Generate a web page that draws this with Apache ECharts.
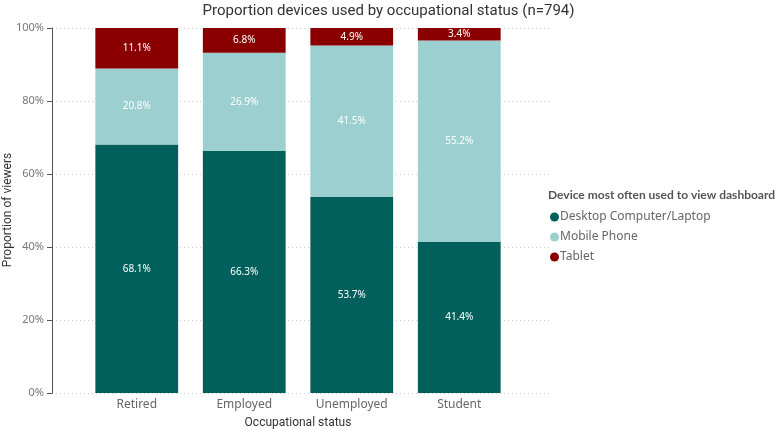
<!DOCTYPE html>
<html><head><meta charset="utf-8">
<script src="https://cdn.jsdelivr.net/npm/echarts@6/dist/echarts.min.js"></script>
<style>html,body{margin:0;padding:0;background:#fff}#c{width:777px;height:430px}</style>
</head><body><div id="c"></div>
<script>
var categories = ['Retired', 'Employed', 'Unemployed', 'Student'];
var desktop = [68.1, 66.3, 53.7, 41.4];
var mobile = [20.8, 26.9, 41.5, 55.2];
var tablet = [11.1, 6.8, 4.9, 3.4];
var yTicks = [0, 20, 40, 60, 80, 100];

var chart = echarts.init(document.getElementById('c'));
var lbl = {show: true, position: 'inside', color: '#fff', fontSize: 10, fontFamily: 'Noto Sans', formatter: function(p){return p.value.toFixed(1) + '%';}};
function ser(name, data, color){
  return {name: name, type: 'bar', stack: 's', xAxisIndex: 1, yAxisIndex: 1, data: data,
    barCategoryGap: '23%', itemStyle: {color: color}, label: lbl, emphasis: {disabled: true}};
}
chart.setOption({
  animation: false,
  title: {text: 'Proportion devices used by occupational status (n=794)', left: 'center', top: -1,
    textStyle: {fontFamily: 'Roboto', fontWeight: 'normal', fontSize: 15, color: '#333'}},
  graphic: [
    {type: 'text', left: 548, top: 189, style: {text: 'Device most often used to view dashboard', fontFamily: 'Lato', fontWeight: 'bold', fontSize: 12, fill: '#555'}},
    {type: 'text', x: 8, y: 210, rotation: Math.PI / 2, style: {text: 'Proportion of viewers', fontFamily: 'Roboto', fontSize: 12, fill: '#333', align: 'center', verticalAlign: 'middle'}}
  ],
  legend: {orient: 'vertical', left: 545, top: 206, itemGap: 8, itemWidth: 9, itemHeight: 9, icon: 'circle',
    textStyle: {fontFamily: 'Noto Sans', fontSize: 12, color: '#666', padding: [0,0,0,-4]},
    data: ['Desktop Computer/Laptop', 'Mobile Phone', 'Tablet']},
  grid: [{left: 52, right: 227, top: 28, bottom: 37, outerBoundsMode: 'none', containLabel: false},
         {left: 83, right: 264, top: 28, bottom: 37, outerBoundsMode: 'none', containLabel: false}],
  xAxis: [
    {gridIndex: 0, type: 'value', min: 0, max: 1, show: false},
    {gridIndex: 1, type: 'category', data: categories, axisLine: {show: false}, axisTick: {show: false},
      axisLabel: {fontFamily: 'Noto Sans', fontSize: 12, color: '#666', margin: 6},
      name: 'Occupational status', nameLocation: 'middle', nameGap: 24,
      nameTextStyle: {fontFamily: 'Roboto', fontSize: 12, color: '#333'}}
  ],
  yAxis: [
    {gridIndex: 0, type: 'value', min: yTicks[0], max: yTicks[yTicks.length-1], interval: 20,
      axisLabel: {formatter: '{value}%', fontFamily: 'Noto Sans', fontSize: 11, color: '#777', margin: 8},
      splitLine: {lineStyle: {type: [1, 3], color: '#ccc'}}},
    {gridIndex: 1, type: 'value', min: 0, max: 100, show: false}
  ],
  series: [
    ser('Desktop Computer/Laptop', desktop, '#02605C'),
    ser('Mobile Phone', mobile, '#9BCFD0'),
    ser('Tablet', tablet, '#8A0000')
  ]
});
</script></body></html>
